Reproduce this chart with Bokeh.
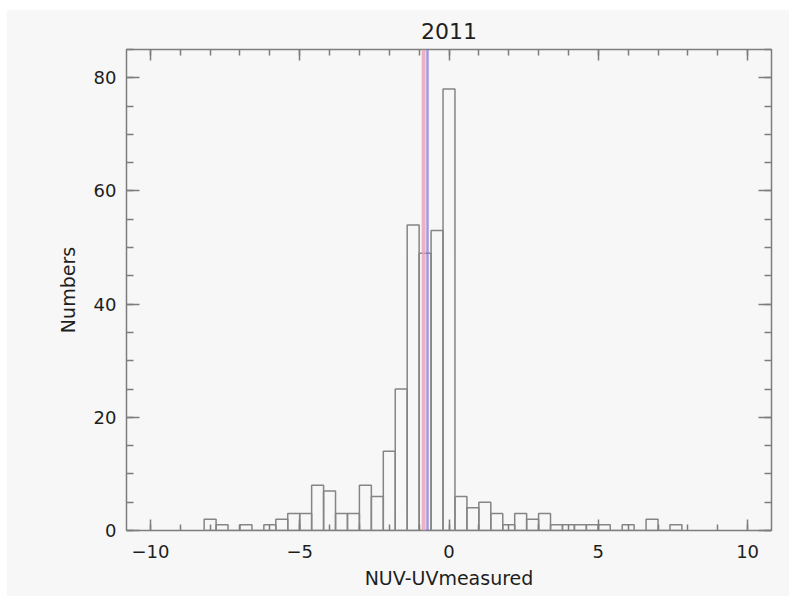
from bokeh.plotting import figure
from bokeh.models import (Range1d, LinearAxis, SingleIntervalTicker, Span,
                          ColumnDataSource, CustomJSTickFormatter)
from bokeh.embed import file_html
from bokeh.resources import INLINE

# ---- data ----
bin_centers = [-8.0, -7.6, -7.2, -6.8, -6.4, -6.0, -5.6, -5.2, -4.8, -4.4,
               -4.0, -3.6, -3.2, -2.8, -2.4, -2.0, -1.6, -1.2, -0.8, -0.4,
               0.0, 0.4, 0.8, 1.2, 1.6, 2.0, 2.4, 2.8, 3.2, 3.6,
               4.0, 4.4, 4.8, 5.2, 5.6, 6.0, 6.4, 6.8, 7.2, 7.6]
counts = [2, 1, 0, 1, 0, 1, 2, 3, 3, 8,
          7, 3, 3, 8, 6, 14, 25, 54, 49, 53,
          78, 6, 4, 5, 3, 1, 3, 2, 3, 1,
          1, 1, 1, 1, 0, 1, 0, 2, 0, 1]
bin_width = 0.4
red_line_x = -0.85
blue_line_x = -0.72
title_text = "2011"
x_label = "NUV-UVmeasured"
y_label = "Numbers"

src = ColumnDataSource(dict(
    left=[c - bin_width / 2 for c in bin_centers],
    right=[c + bin_width / 2 for c in bin_centers],
    top=counts,
    bottom=[0] * len(counts),
))

BG = "#f7f7f7"
AX = "#7d7d7d"
TXT = "#1e1e1e"
FONT = "DejaVu Sans"

p = figure(width=783, height=587, output_backend="svg", toolbar_location=None,
           x_range=Range1d(-10.8, 10.8), y_range=Range1d(0, 85),
           min_border_left=120, min_border_right=18, min_border_top=40, min_border_bottom=66,
           x_axis_type=None, y_axis_type=None)
p.margin = (9, 0, 0, 6)
p.background_fill_color = BG
p.border_fill_color = BG
p.outline_line_color = AX
p.outline_line_width = 1.5
p.grid.visible = False

p.title.text = title_text
p.title.align = "center"
p.title.text_font = FONT
p.title.text_font_size = "22px"
p.title.text_font_style = "normal"
p.title.text_color = TXT
p.title.standoff = 22

p.quad(left="left", right="right", top="top", bottom="bottom", source=src,
       fill_color=None, line_color="#858585", line_width=1.5)

p.add_layout(Span(location=red_line_x, dimension="height", line_color="#eaa0b4",
                  line_width=4, line_alpha=0.8))
p.add_layout(Span(location=blue_line_x, dimension="height", line_color="#8478d8",
                  line_width=2.5, line_alpha=0.75))

blank = CustomJSTickFormatter(code="return '';")


def style(ax, show_labels, major_in, minor_in):
    ax.axis_line_color = None
    ax.major_tick_line_color = AX
    ax.minor_tick_line_color = AX
    ax.major_tick_line_width = 1.5
    ax.minor_tick_line_width = 1.5
    ax.major_tick_in = major_in
    ax.major_tick_out = 0
    ax.minor_tick_in = minor_in
    ax.minor_tick_out = 0
    ax.major_label_text_font = FONT
    ax.major_label_text_color = TXT
    ax.axis_label_text_font = FONT
    ax.axis_label_text_color = TXT
    ax.axis_label_text_font_style = "normal"
    ax.major_label_text_font_size = "18px"
    if not show_labels:
        ax.formatter = blank
        ax.major_label_standoff = 0


xt = lambda: SingleIntervalTicker(interval=5, num_minor_ticks=5)
yt = lambda: SingleIntervalTicker(interval=20, num_minor_ticks=4)

xb = LinearAxis(ticker=xt(), axis_label=x_label)
style(xb, True, 11, 6)
xb.major_label_standoff = 14
xb.axis_label_standoff = 6
xb.axis_label_text_font_size = "19px"
p.add_layout(xb, "below")

xa = LinearAxis(ticker=xt())
style(xa, False, 11, 6)
p.add_layout(xa, "above")

yl = LinearAxis(ticker=yt(), axis_label=y_label)
style(yl, True, 13, 7)
yl.major_label_standoff = 10
yl.axis_label_standoff = 12
yl.axis_label_text_font_size = "19px"
p.add_layout(yl, "left")

yr = LinearAxis(ticker=yt())
style(yr, False, 13, 7)
p.add_layout(yr, "right")

open("out.html", "w").write(file_html(p, INLINE))
